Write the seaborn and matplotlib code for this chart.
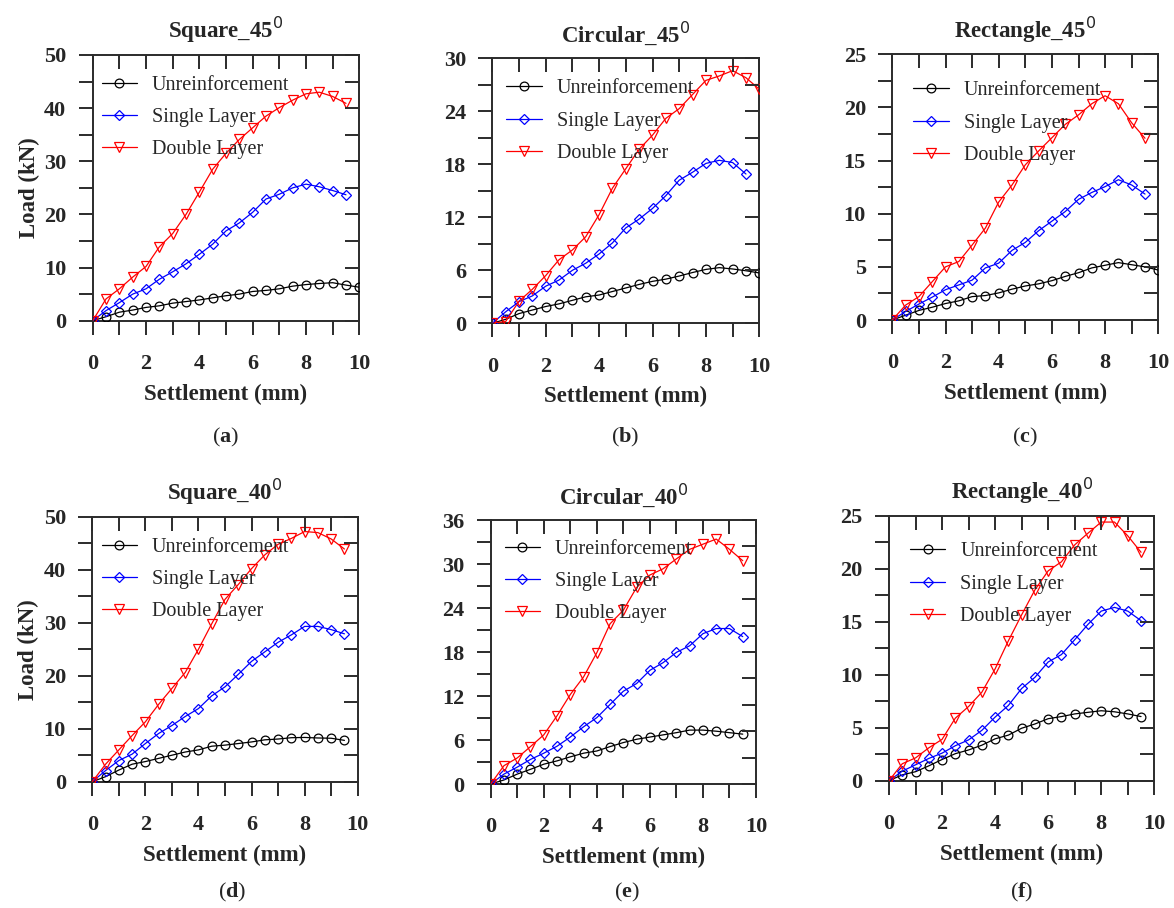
import numpy as np
import pandas as pd
import matplotlib
matplotlib.use("Agg")
import matplotlib.pyplot as plt
import seaborn as sns
from matplotlib.ticker import MultipleLocator, NullLocator

# ---------------- data ----------------
settle_full = [0, 0.5, 1, 1.5, 2, 2.5, 3, 3.5, 4, 4.5, 5, 5.5, 6, 6.5, 7, 7.5, 8, 8.5, 9, 9.5, 10]

series_names = ["Unreinforcement", "Single Layer", "Double Layer"]
titles = ["Square_45", "Circular_45", "Rectangle_45", "Square_40", "Circular_40", "Rectangle_40"]
captions = ["a", "b", "c", "d", "e", "f"]

# (a) Square 45
sq45_unr = [0, 0.75, 1.6, 2.0, 2.5, 2.8, 3.3, 3.6, 3.9, 4.3, 4.7, 5.0, 5.5, 5.7, 6.0, 6.5, 6.8, 7.0, 7.15, 6.7, 6.3]
sq45_single = [0, 1.9, 3.4, 5.0, 6.0, 7.8, 9.2, 10.7, 12.5, 14.4, 16.9, 18.4, 20.4, 22.9, 23.8, 25.0, 25.7, 25.2, 24.5, 23.7]
sq45_double = [0, 4.1, 6.0, 8.2, 10.2, 13.9, 16.4, 20.0, 24.2, 28.5, 31.5, 34.1, 36.3, 38.5, 40.1, 41.5, 42.7, 43.0, 42.2, 40.9]
# (b) Circular 45
ci45_unr = [0, 0.45, 1.1, 1.5, 1.9, 2.2, 2.6, 3.0, 3.2, 3.6, 4.0, 4.4, 4.75, 5.0, 5.35, 5.75, 6.1, 6.3, 6.15, 5.95, 5.7]
ci45_single = [0, 1.3, 2.45, 3.1, 4.2, 4.9, 6.0, 6.8, 7.85, 9.1, 10.8, 11.8, 13.0, 14.45, 16.2, 17.1, 18.1, 18.45, 18.2, 16.9]
ci45_double = [0, 0.2, 2.5, 3.85, 5.4, 7.2, 8.3, 9.8, 12.3, 15.3, 17.5, 19.7, 21.3, 23.2, 24.3, 25.9, 27.5, 28.0, 28.6, 27.8, 26.5]
# (c) Rectangle 45
re45_unr = [0, 0.45, 0.9, 1.2, 1.55, 1.8, 2.2, 2.3, 2.55, 2.9, 3.2, 3.4, 3.7, 4.1, 4.45, 4.9, 5.15, 5.4, 5.2, 5.0, 4.7]
re45_single = [0, 0.8, 1.5, 2.15, 2.85, 3.3, 3.75, 4.9, 5.35, 6.55, 7.3, 8.4, 9.3, 10.2, 11.35, 12.0, 12.55, 13.2, 12.7, 11.85]
re45_double = [0, 1.4, 2.2, 3.6, 5.0, 5.5, 7.05, 8.65, 11.1, 12.7, 14.6, 15.9, 17.15, 18.4, 19.3, 20.35, 21.1, 20.35, 18.55, 17.1]
# (d) Square 40
sq40_unr = [0, 0.95, 2.2, 3.3, 3.8, 4.4, 5.0, 5.6, 6.0, 6.7, 6.9, 7.2, 7.5, 7.9, 8.05, 8.3, 8.35, 8.25, 8.2, 7.8]
sq40_single = [0, 2.1, 4.0, 5.2, 7.2, 9.1, 10.6, 12.3, 13.8, 16.2, 17.9, 20.25, 22.7, 24.5, 26.3, 27.7, 29.3, 29.3, 28.7, 27.9]
sq40_double = [0, 3.3, 6.0, 8.7, 11.3, 14.6, 17.6, 20.6, 25.0, 29.8, 34.4, 37.2, 40.2, 42.8, 44.8, 45.9, 47.2, 47.0, 45.8, 43.9]
# (e) Circular 40
ci40_unr = [0, 0.55, 1.35, 2.0, 2.7, 3.15, 3.7, 4.2, 4.5, 5.1, 5.65, 6.1, 6.4, 6.7, 7.0, 7.35, 7.35, 7.2, 7.0, 6.8]
ci40_single = [0, 1.35, 2.3, 3.35, 4.2, 5.15, 6.4, 7.8, 9.05, 10.85, 12.65, 13.7, 15.5, 16.55, 17.95, 18.85, 20.5, 21.2, 21.2, 20.1]
ci40_double = [0, 2.5, 3.55, 5.1, 6.7, 9.3, 12.2, 14.6, 17.9, 21.85, 23.7, 26.8, 28.5, 29.35, 30.7, 32.0, 32.7, 33.4, 32.0, 30.45]
# (f) Rectangle 40
re40_unr = [0, 0.55, 0.85, 1.4, 2.0, 2.55, 2.9, 3.35, 3.95, 4.3, 4.95, 5.35, 5.85, 6.05, 6.3, 6.45, 6.6, 6.5, 6.3, 6.05]
re40_single = [0, 0.9, 1.5, 2.1, 2.6, 3.3, 3.85, 4.75, 6.0, 7.1, 8.7, 9.75, 11.2, 11.9, 13.3, 14.75, 16.0, 16.35, 16.0, 15.1]
re40_double = [0, 1.6, 2.15, 3.1, 3.9, 5.9, 7.0, 8.35, 10.55, 13.2, 15.65, 18.0, 19.8, 20.65, 22.25, 23.35, 24.4, 24.4, 23.1, 21.55]

panel_data = [
    [sq45_unr, sq45_single, sq45_double],
    [ci45_unr, ci45_single, ci45_double],
    [re45_unr, re45_single, re45_double],
    [sq40_unr, sq40_single, sq40_double],
    [ci40_unr, ci40_single, ci40_double],
    [re40_unr, re40_single, re40_double],
]
y_max = [50, 30, 25, 50, 36, 25]
y_major = [10, 6, 5, 10, 6, 5]
y_right_major = [10, 6, 5, 10, 3.6, 5]

# ---------------- style ----------------
sns.set_theme(style="ticks")
plt.rcParams["font.family"] = ["Liberation Serif", "DejaVu Serif"]
plt.rcParams["mathtext.fontset"] = "custom"
plt.rcParams["mathtext.rm"] = "Liberation Serif"
plt.rcParams["mathtext.bf"] = "Liberation Serif:bold"
plt.rcParams["mathtext.sf"] = "DejaVu Sans"

colors = ["#000000", "#0000ff", "#ff0000"]
markers = ["o", "D", "v"]
msizes = [6.3, 5.2, 7.8]
spine_col = "#2b2b2b"
TL = 10
TW = 1.4

W, H = 1174, 908
# axes boxes in pixels: left, right, top, bottom
boxes = [
    (92.7, 359.3, 55.0, 320.7),
    (492.3, 759.3, 58.3, 323.3),
    (892.3, 1158.3, 54.3, 320.0),
    (92.3, 357.7, 516.7, 781.7),
    (490.7, 756.0, 520.0, 784.0),
    (889.0, 1154.3, 515.7, 780.7),
]
legend_off = [(9, 28), (14, 28), (21, 34), (9.4, 28), (14, 27), (21, 33.6)]
caption_pos = [(226, 437), (625, 437), (1025, 437), (232, 892), (627, 892), (1022, 892)]

fig = plt.figure(figsize=(W / 100, H / 100), dpi=100)


def bare(a):
    a.patch.set_visible(False)
    for sp in a.spines.values():
        sp.set_visible(False)


for i in range(6):
    l, r, t, b = boxes[i]
    ax = fig.add_axes([l / W, 1 - b / H, (r - l) / W, (b - t) / H])
    for j, name in enumerate(series_names):
        yv = panel_data[i][j]
        xv = settle_full[:len(yv)]
        df = pd.DataFrame({"Settlement": xv, "Load": yv})
        sns.lineplot(data=df, x="Settlement", y="Load", ax=ax, color=colors[j],
                     marker=markers[j], markersize=msizes[j], markerfacecolor="none",
                     markeredgecolor=colors[j], markeredgewidth=0.9, linewidth=0.9,
                     label=name, legend=False, zorder=3)
    ax.set_xlim(0, 10)
    ax.set_ylim(0, y_max[i])
    ax.xaxis.set_major_locator(MultipleLocator(2))
    ax.xaxis.set_minor_locator(MultipleLocator(1))
    ax.yaxis.set_major_locator(MultipleLocator(y_major[i]))
    ax.yaxis.set_minor_locator(MultipleLocator(y_major[i] / 2))
    ax.tick_params(which="both", direction="out", length=TL, width=TW, color=spine_col,
                   top=False, right=False)
    ax.tick_params(axis="x", which="major", pad=14, labelsize=16)
    ax.tick_params(axis="y", which="major", pad=9, labelsize=16)
    for lab in ax.get_xticklabels() + ax.get_yticklabels():
        lab.set_fontweight("bold")
    for sp in ax.spines.values():
        sp.set_visible(True)
        sp.set_color(spine_col)
        sp.set_linewidth(TW)

    ax.set_xlabel("Settlement (mm)", fontsize=16.5, fontweight="bold", labelpad=7)
    if i % 3 == 0:
        ax.set_ylabel("Load (kN)", fontsize=16.5, fontweight="bold", labelpad=3)
    else:
        ax.set_ylabel("")
    ax.set_title(titles[i] + r"$^{\mathsf{0}}$", fontsize=16.5, fontweight="bold", pad=12)

    dx, dy = legend_off[i]
    ax.legend(loc="upper left", bbox_to_anchor=(dx / (r - l), 1 - (dy - 7) / (b - t)),
              frameon=False, fontsize=14.5, borderpad=0, borderaxespad=0,
              handlelength=1.75, handletextpad=0.75, labelspacing=0.65)

    # inward ticks along the top edge: thin helper axis whose bottom edge sits on the top spine
    top_ax = fig.add_axes([l / W, 1 - t / H, (r - l) / W, 0.0001])
    bare(top_ax)
    top_ax.set_xlim(0, 10)
    top_ax.xaxis.set_major_locator(MultipleLocator(1))
    top_ax.xaxis.set_minor_locator(NullLocator())
    top_ax.yaxis.set_major_locator(NullLocator())
    top_ax.tick_params(axis="x", which="both", direction="out", length=TL, width=TW,
                       color=spine_col, bottom=True, top=False, labelbottom=False)
    top_ax.tick_params(axis="y", left=False, right=False, labelleft=False)

    # inward ticks along the right edge: thin helper axis whose left edge sits on the right spine
    right_ax = fig.add_axes([r / W, 1 - b / H, 0.0001, (b - t) / H])
    bare(right_ax)
    right_ax.set_ylim(0, y_max[i])
    right_ax.yaxis.set_major_locator(MultipleLocator(y_right_major[i]))
    if y_right_major[i] == y_major[i]:
        right_ax.yaxis.set_minor_locator(MultipleLocator(y_major[i] / 2))
    else:
        right_ax.yaxis.set_minor_locator(NullLocator())
    right_ax.xaxis.set_major_locator(NullLocator())
    right_ax.tick_params(axis="y", which="both", direction="out", length=TL, width=TW,
                         color=spine_col, left=True, right=False, labelleft=False)
    right_ax.tick_params(axis="x", bottom=False, top=False, labelbottom=False)

    cx, cy = caption_pos[i]
    fig.text(cx / W, 1 - cy / H, "($\\mathbf{" + captions[i] + "}$)", fontsize=16,
             ha="center", va="center")

fig.savefig("out.png", dpi=100)
